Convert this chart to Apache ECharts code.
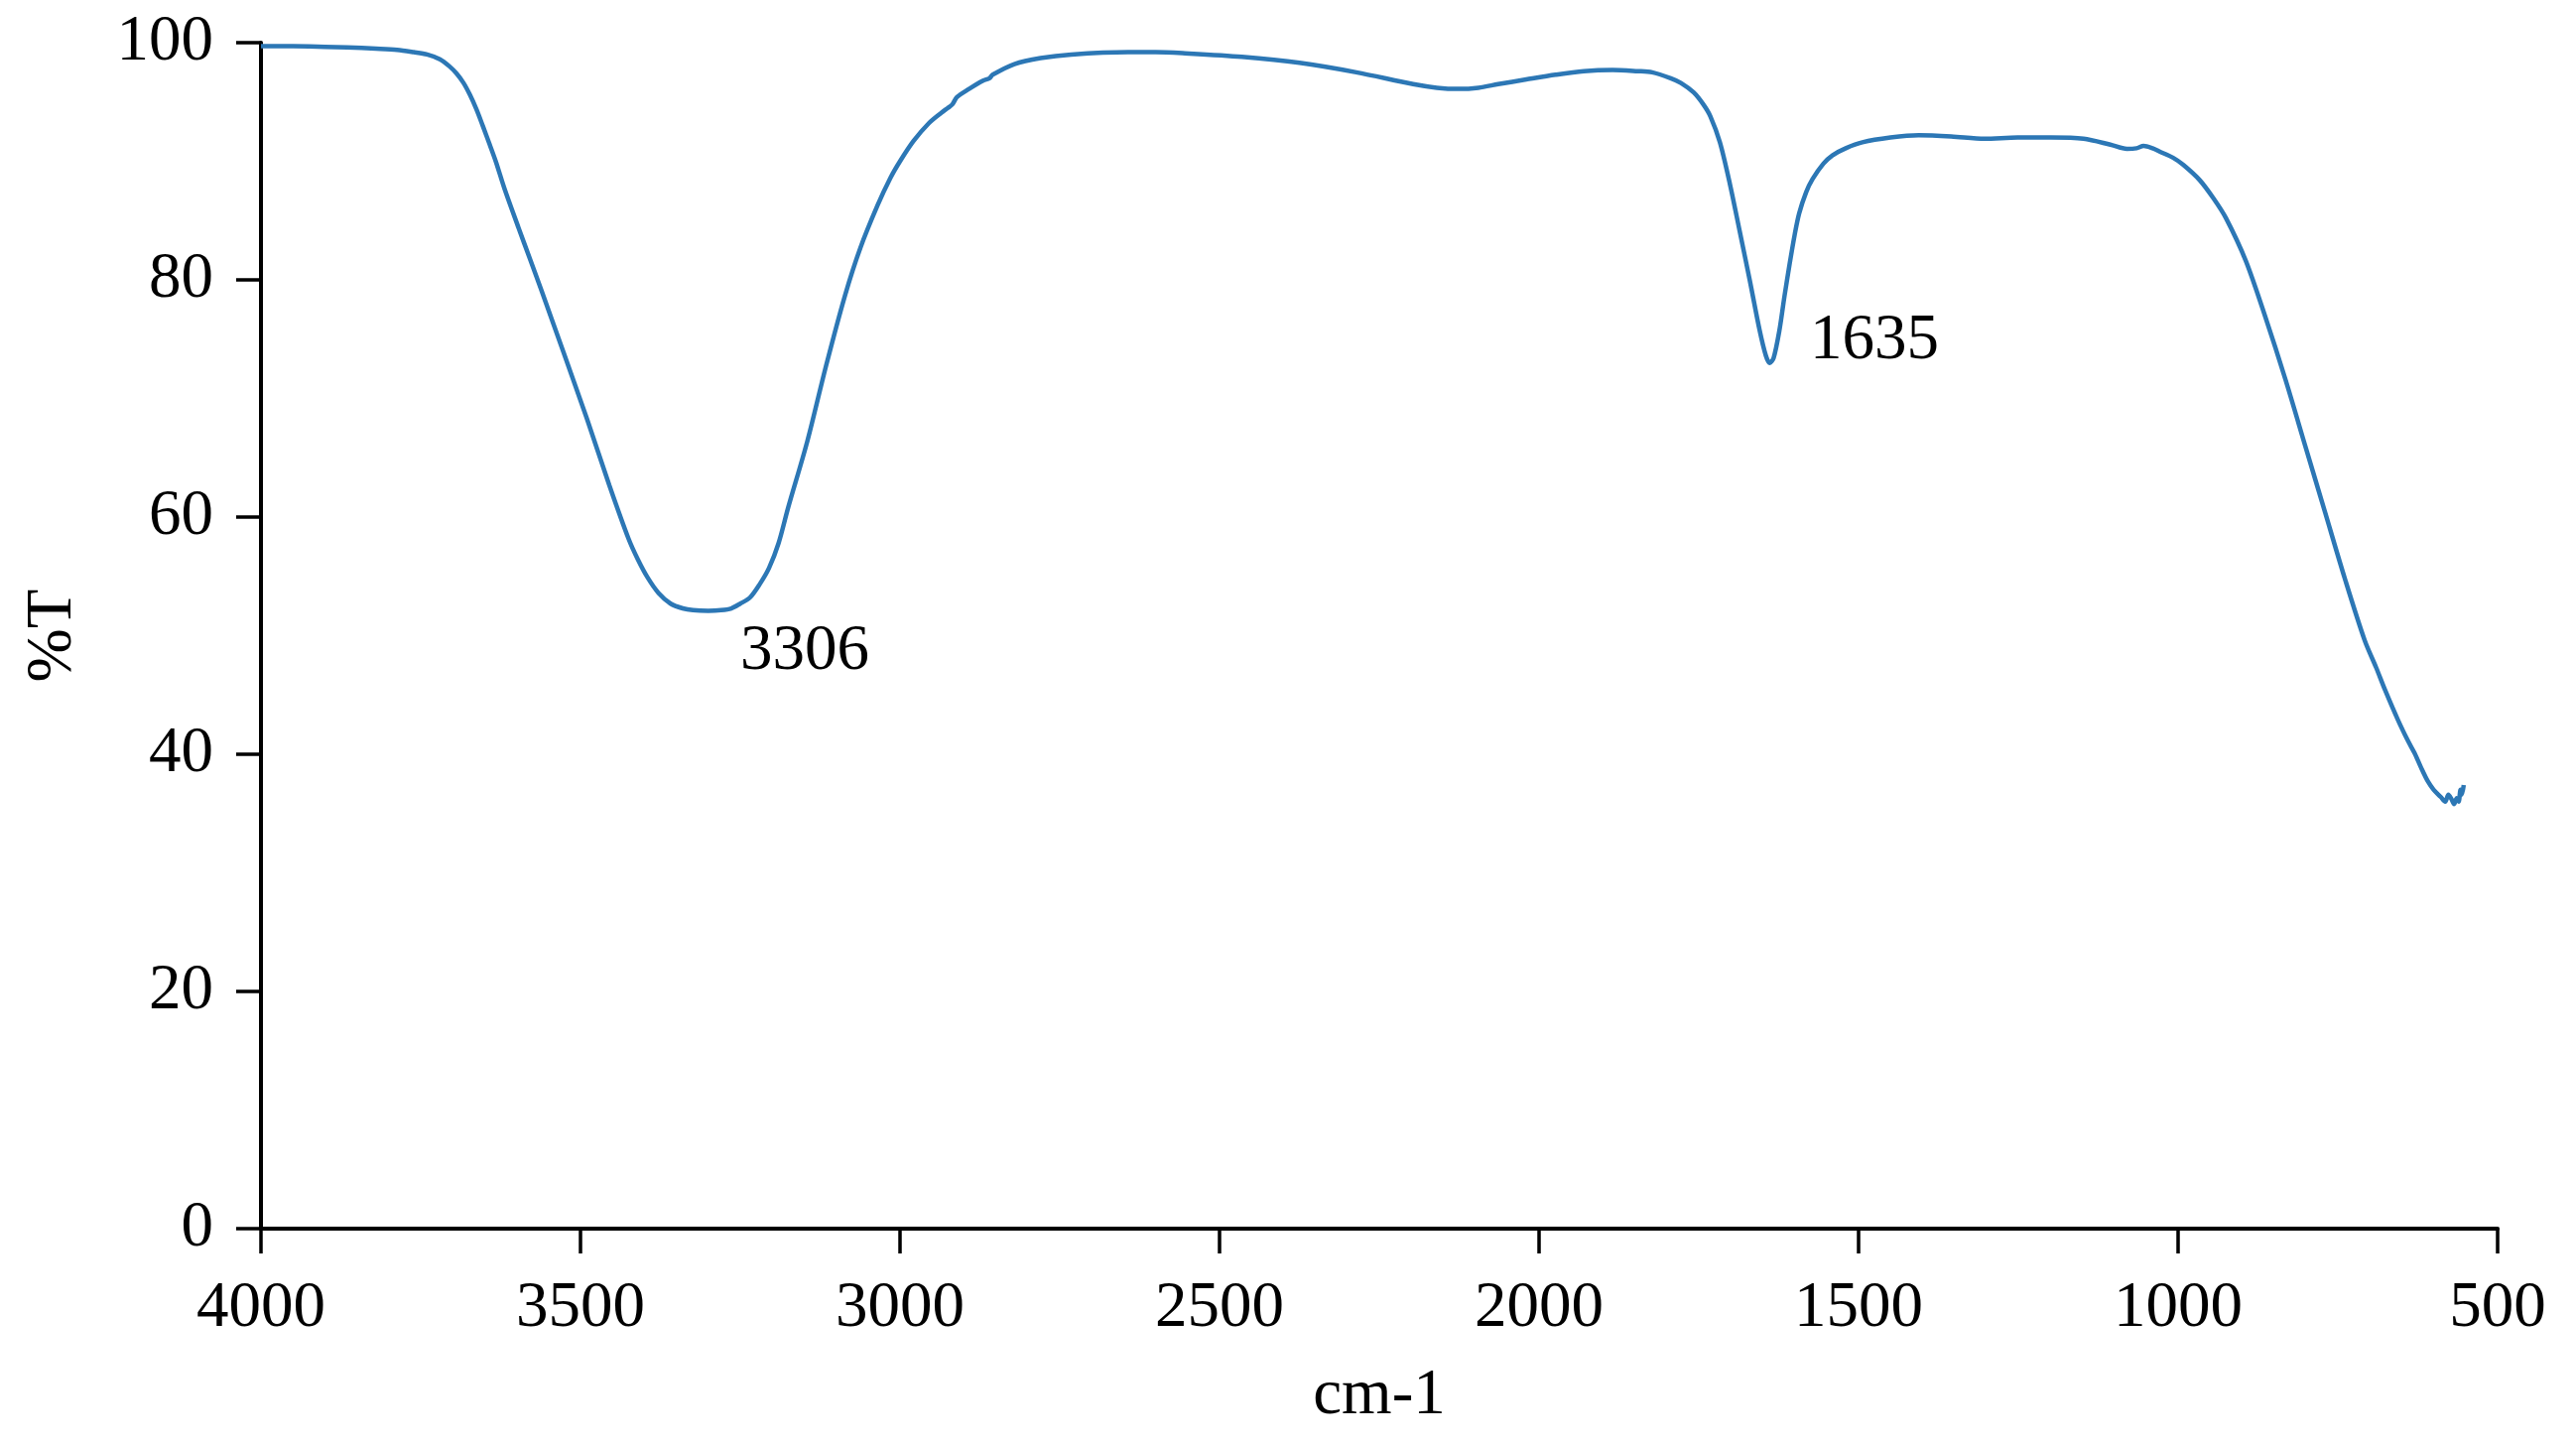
<!DOCTYPE html>
<html>
<head>
<meta charset="utf-8">
<script src="https://cdn.jsdelivr.net/npm/echarts@6/dist/echarts.min.js"></script>
<style>
  html, body { margin: 0; padding: 0; background: #ffffff; }
  #chart { width: 2596px; height: 1456px; }
</style>
</head>
<body>
<div id="chart"></div>
<script>
// Wavenumber (cm-1)
var wavenumbers = [
  4000, 3950, 3900, 3865, 3820, 3787, 3761, 3740, 3720, 3705,
  3694, 3683, 3673, 3663, 3653, 3642, 3632, 3619, 3597, 3580,
  3561, 3526, 3490, 3455, 3425, 3410, 3395, 3378, 3359, 3340,
  3324, 3300, 3280, 3264, 3250, 3235, 3220, 3205, 3190, 3175,
  3145, 3116, 3086, 3062, 3035, 3015, 3000, 2979, 2955, 2935,
  2925, 2918, 2911, 2892, 2870, 2860, 2855, 2821, 2780, 2732,
  2643, 2600, 2554, 2465, 2375, 2286, 2197, 2160, 2126, 2095,
  2064, 2020, 1974, 1930, 1885, 1846, 1823, 1794, 1778, 1758,
  1743, 1732, 1717, 1701, 1686, 1670, 1655, 1645, 1639, 1633,
  1624, 1616, 1608, 1600, 1593, 1582, 1572, 1555, 1541, 1520,
  1494, 1450, 1406, 1355, 1303, 1251, 1199, 1148, 1106, 1080,
  1065, 1054, 1040, 1028, 1008, 992, 966, 945, 925, 894,
  863, 832, 801, 770, 739, 708, 690, 676, 656, 640,
  630, 620, 609, 600, 589, 582, 577, 572, 568, 564,
  561, 558, 556, 553
];
// Transmittance (%T)
var transmittance = [
  99.7, 99.7, 99.65, 99.6, 99.5, 99.4, 99.2, 99.0, 98.6, 98.0,
  97.4, 96.6, 95.6, 94.4, 93.0, 91.4, 89.9, 87.7, 84.4, 81.9,
  79.1, 73.8, 68.3, 62.7, 58.2, 56.4, 54.9, 53.6, 52.7, 52.3,
  52.15, 52.1, 52.15, 52.3, 52.7, 53.2, 54.3, 55.7, 57.8, 60.8,
  66.4, 72.7, 78.7, 82.7, 86.3, 88.6, 90.0, 91.7, 93.2, 94.1,
  94.5, 94.8, 95.4, 96.1, 96.8, 97.0, 97.3, 98.2, 98.7, 99.0,
  99.2, 99.2, 99.1, 98.8, 98.3, 97.5, 96.5, 96.2, 96.1, 96.2,
  96.5, 96.9, 97.3, 97.6, 97.7, 97.6, 97.5, 97.0, 96.6, 95.8,
  94.8, 93.8, 91.6, 88.0, 84.1, 79.9, 75.8, 73.6, 73.0, 73.4,
  75.7, 78.6, 81.3, 83.8, 85.6, 87.4, 88.5, 89.8, 90.5, 91.1,
  91.6, 92.0, 92.2, 92.1, 91.9, 92.0, 92.0, 91.9, 91.4, 91.05,
  91.1, 91.3, 91.1, 90.8, 90.3, 89.7, 88.4, 86.9, 85.2, 81.6,
  76.8, 71.6, 66.0, 60.4, 54.8, 49.6, 47.3, 45.4, 42.9, 41.1,
  40.1, 38.9, 37.7, 37.0, 36.4, 36.0, 36.6, 36.2, 35.8, 36.3,
  36.0, 37.0, 36.6, 37.4
];
// Peak annotations
var peakNames = ['3306', '1635'];
var peakWavenumbers = [3306, 1635];
var peakValues = [52.1, 73.0];

// Tick values
var xTicks = [4000, 3500, 3000, 2500, 2000, 1500, 1000, 500];
var yTicks = [0, 20, 40, 60, 80, 100];

var FONT = "'Liberation Serif', 'Times New Roman', serif";
var labelOffsets = [[36, 42], [38, -22]];

var lineData = wavenumbers.map(function (w, i) { return [w, transmittance[i]]; });
var peakData = peakNames.map(function (n, i) {
  return {
    name: n,
    value: [peakWavenumbers[i], peakValues[i]],
    label: { offset: labelOffsets[i] }
  };
});

var chart = echarts.init(document.getElementById('chart'), null, { renderer: 'canvas' });
chart.setOption({
  backgroundColor: '#ffffff',
  animation: false,
  grid: { left: 263, right: 79, top: 43, bottom: 218, containLabel: false },
  xAxis: {
    type: 'value',
    min: 500, max: 4000, interval: 500, inverse: true,
    name: 'cm-1', nameLocation: 'middle', nameGap: 136,
    nameTextStyle: { fontFamily: FONT, fontSize: 65, color: '#000' },
    axisLine: { show: true, onZero: false, lineStyle: { color: '#000', width: 4 } },
    axisTick: { show: true, length: 25, lineStyle: { color: '#000', width: 3.5 } },
    axisLabel: {
      fontFamily: FONT, fontSize: 65, color: '#000', margin: 48,
      formatter: function (v) { return String(v); }
    },
    splitLine: { show: false }
  },
  yAxis: {
    type: 'value',
    min: 0, max: 100, interval: 20,
    name: '%T', nameLocation: 'middle', nameGap: 177, nameRotate: 90,
    nameTextStyle: { fontFamily: FONT, fontSize: 65, color: '#000' },
    axisLine: { show: true, lineStyle: { color: '#000', width: 4 } },
    axisTick: { show: true, length: 25, lineStyle: { color: '#000', width: 3.5 } },
    axisLabel: {
      fontFamily: FONT, fontSize: 65, color: '#000', margin: 48,
      formatter: function (v) { return String(v); }
    },
    splitLine: { show: false }
  },
  series: [
    {
      type: 'line',
      data: lineData,
      showSymbol: false,
      smooth: 0.3,
      lineStyle: { color: '#2C77B5', width: 4.5 },
      z: 3
    },
    {
      type: 'scatter',
      data: peakData,
      symbolSize: 0,
      silent: true,
      itemStyle: { color: '#000', opacity: 1 },
      label: {
        show: true,
        position: 'right',
        distance: 0,
        align: 'left',
        verticalAlign: 'middle',
        formatter: '{b}',
        fontFamily: FONT,
        fontSize: 65,
        color: '#000',
        opacity: 1,
        textBorderWidth: 0
      },
      z: 4
    }
  ]
});
</script>
</body>
</html>
